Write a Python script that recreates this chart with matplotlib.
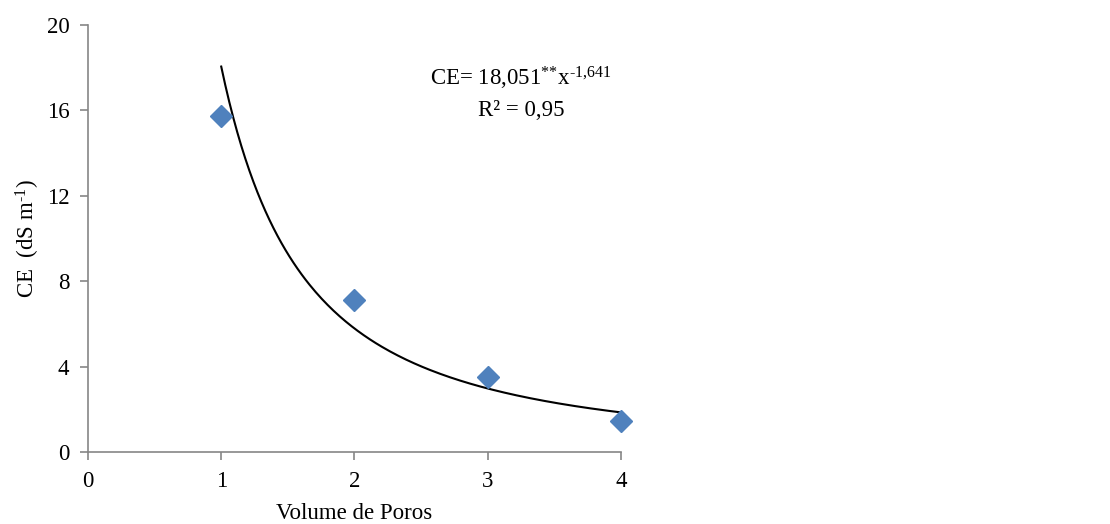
import matplotlib

matplotlib.use("Agg")
import matplotlib.pyplot as plt
import numpy as np

# data
volume = [1, 2, 3, 4]
ce = [15.75, 7.1, 3.5, 1.45]

# fitted power trendline shown on the chart: CE = a * x^b
fit_a = 18.051
fit_b = -1.641

plt.rcParams["font.family"] = ["Liberation Serif", "DejaVu Serif"]
plt.rcParams["mathtext.fontset"] = "custom"
plt.rcParams["mathtext.rm"] = "Liberation Serif"
plt.rcParams["mathtext.it"] = "Liberation Serif"
plt.rcParams["mathtext.default"] = "regular"
grey = "#868686"
HY = "\u2010"  # plain hyphen, mathtext would turn "-" into a minus

fig = plt.figure(figsize=(11.1, 5.24), dpi=100)
ax = fig.add_axes([0.0793, 0.1374, 0.480, 0.815])

xs = np.linspace(min(volume), max(volume), 200)
ax.plot(xs, fit_a * xs ** fit_b, color="black", lw=1.5, zorder=2)
ax.plot(volume, ce, ls="none", marker="D", ms=11.5, color="#4f81bd",
        zorder=3, clip_on=False)

ax.set_xlim(0, 4)
ax.set_ylim(0, 20)
ax.set_xticks([0, 1, 2, 3, 4])
ax.set_yticks([0, 4, 8, 12, 16, 20])
ax.tick_params(labelsize=16.5, color=grey, length=5.5, width=1.2,
               direction="out", pad=8)
for s in ("top", "right"):
    ax.spines[s].set_visible(False)
for s in ("left", "bottom"):
    ax.spines[s].set_color(grey)
    ax.spines[s].set_linewidth(1.2)

ax.set_xlabel("Volume de Poros", fontsize=16.5, labelpad=8)
ax.set_ylabel(r"CE  (dS m$^{" + HY + "1}$)", fontsize=16.5, labelpad=3)

ax.text(3.25, 17.5, r"CE= 18,051$^{{*}{*}}$x$^{" + HY + "1{,}641}$",
        ha="center", va="center", fontsize=16.5)
ax.text(3.25, 16.0, "R² = 0,95", ha="center", va="center", fontsize=16.5)

fig.savefig("out.png", dpi=100)
